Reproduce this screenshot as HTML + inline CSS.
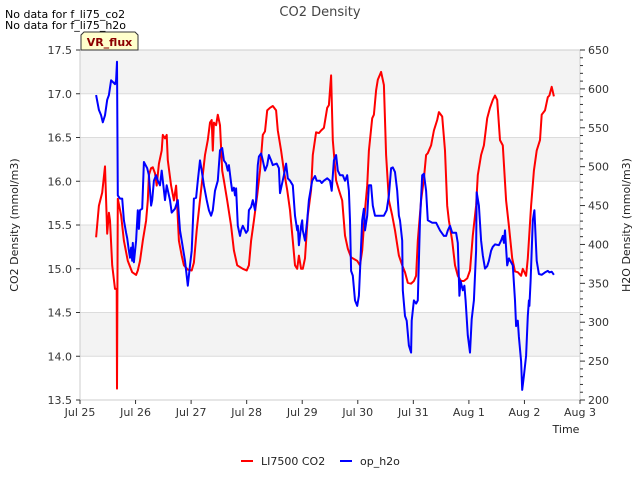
<!DOCTYPE html>
<html><head><meta charset="utf-8"><style>
body{margin:0;background:#fff;font-family:"DejaVu Sans","Liberation Sans",sans-serif;}
svg text{font-family:"DejaVu Sans","Liberation Sans",sans-serif;}
</style></head><body>
<svg id="chart" width="640" height="480" viewBox="0 0 640 480" xmlns="http://www.w3.org/2000/svg">
<rect width="640" height="480" fill="#fff"/>
<g id="bands"></g>
<g id="grid"></g>
<rect x="80" y="50" width="500" height="350" fill="none" stroke="#ccc" stroke-width="1"/>
<g id="axes"></g>
<g id="series"></g>
<text x="320" y="16" text-anchor="middle" font-size="13" fill="#444">CO2 Density</text>
<text x="5" y="18" font-size="11" fill="#000">No data for f_li75_co2</text>
<text x="5" y="29" font-size="11" fill="#000">No data for f_li75_h2o</text>
<g>
<path d="M84,32 L135,32 L138,35 L138,50 L81,50 L81,35 Z" fill="#ffffcc" stroke="#333" stroke-width="1"/>
<text x="109.5" y="46" text-anchor="middle" font-size="11" font-weight="bold" fill="#8b0000">VR_flux</text>
</g>
<text transform="translate(18,225) rotate(-90)" text-anchor="middle" font-size="11" fill="#222">CO2 Density (mmol/m3)</text>
<text transform="translate(630,225) rotate(-90)" text-anchor="middle" font-size="11" fill="#222">H2O Density (mmol/m3)</text>
<text x="566" y="433" text-anchor="middle" font-size="11" fill="#222">Time</text>
<g>
<g><line x1="241" y1="461" x2="253" y2="461" stroke="#f00" stroke-width="2"/><text x="261" y="465" font-size="11" fill="#222">LI7500 CO2</text></g>
<g><line x1="340" y1="461" x2="352" y2="461" stroke="#00f" stroke-width="2"/><text x="360" y="465" font-size="11" fill="#222">op_h2o</text></g>
</g>
</svg>
<script>
const xTickLabels=["Jul 25","Jul 26","Jul 27","Jul 28","Jul 29","Jul 30","Jul 31","Aug 1","Aug 2","Aug 3"];
const leftTicks=[13.5,14.0,14.5,15.0,15.5,16.0,16.5,17.0,17.5];
const rightTicks=[200,250,300,350,400,450,500,550,600,650];
const co2Times=[0.29,0.34,0.40,0.45,0.49,0.52,0.54,0.58,0.63,0.66,0.666,0.68,0.74,0.79,0.86,0.94,1.01,1.04,1.08,1.13,1.19,1.22,1.24,1.28,1.31,1.35,1.38,1.42,1.47,1.49,1.53,1.56,1.58,1.64,1.69,1.73,1.74,1.78,1.83,1.87,1.94,2.01,2.05,2.10,2.14,2.18,2.25,2.30,2.34,2.37,2.39,2.41,2.45,2.48,2.52,2.56,2.59,2.65,2.72,2.77,2.83,2.93,3.00,3.04,3.08,3.13,3.19,3.24,3.29,3.33,3.37,3.42,3.47,3.53,3.56,3.62,3.67,3.73,3.78,3.83,3.87,3.91,3.94,3.98,4.01,4.05,4.10,4.16,4.19,4.25,4.30,4.34,4.39,4.45,4.48,4.52,4.55,4.61,4.66,4.72,4.77,4.82,4.88,4.99,5.04,5.08,5.13,5.17,5.20,5.26,5.29,5.33,5.36,5.42,5.47,5.51,5.56,5.62,5.67,5.74,5.80,5.85,5.90,5.96,6.01,6.05,6.08,6.14,6.19,6.23,6.26,6.32,6.37,6.43,6.46,6.52,6.57,6.61,6.64,6.70,6.75,6.80,6.86,6.91,6.97,7.02,7.07,7.13,7.16,7.22,7.27,7.33,7.38,7.43,7.47,7.51,7.56,7.61,7.67,7.72,7.78,7.83,7.88,7.94,7.97,8.03,8.06,8.12,8.17,8.22,8.28,8.31,8.37,8.42,8.45,8.49,8.53];
const co2Values=[15.36,15.72,15.87,16.17,15.40,15.64,15.55,15.04,14.77,14.77,13.63,15.80,15.61,15.32,15.09,14.96,14.93,14.98,15.09,15.32,15.55,15.78,16.07,16.15,16.16,16.09,15.95,16.20,16.35,16.53,16.49,16.53,16.24,15.95,15.78,15.95,15.84,15.32,15.15,15.04,14.99,14.98,15.07,15.44,15.67,15.90,16.30,16.47,16.67,16.70,16.35,16.67,16.64,16.76,16.64,16.12,16.01,15.78,15.49,15.21,15.04,15.00,14.98,15.04,15.32,15.55,15.84,16.12,16.53,16.57,16.81,16.84,16.86,16.81,16.58,16.35,16.12,15.90,15.67,15.32,15.04,15.00,15.15,15.00,15.00,15.12,15.61,15.90,16.30,16.56,16.55,16.58,16.61,16.84,16.87,17.21,16.47,16.01,15.90,15.78,15.38,15.23,15.13,15.09,15.04,15.21,15.67,15.95,16.35,16.72,16.76,17.04,17.16,17.25,17.10,16.30,15.78,15.61,15.44,15.15,15.04,14.96,14.84,14.83,14.86,14.92,15.32,15.78,16.03,16.30,16.32,16.41,16.58,16.70,16.79,16.74,16.35,15.72,15.55,15.32,15.04,14.92,14.86,14.86,14.89,14.98,15.38,15.72,16.07,16.30,16.41,16.72,16.84,16.93,16.98,16.93,16.47,16.41,15.78,15.49,15.12,14.97,14.96,14.92,15.00,14.92,15.12,15.72,16.12,16.35,16.47,16.76,16.81,16.96,16.98,17.08,16.97];
const h2oTimes=[0.29,0.34,0.38,0.41,0.45,0.49,0.52,0.56,0.59,0.63,0.65,0.666,0.68,0.72,0.76,0.79,0.83,0.85,0.88,0.90,0.92,0.94,0.95,0.97,1.01,1.04,1.06,1.08,1.12,1.15,1.21,1.24,1.28,1.30,1.33,1.37,1.40,1.44,1.47,1.53,1.56,1.62,1.65,1.71,1.76,1.80,1.83,1.89,1.94,1.98,2.01,2.05,2.09,2.12,2.16,2.19,2.23,2.28,2.32,2.36,2.39,2.43,2.48,2.52,2.56,2.59,2.63,2.66,2.68,2.72,2.74,2.77,2.79,2.81,2.84,2.88,2.90,2.93,2.97,2.99,3.02,3.04,3.08,3.11,3.15,3.17,3.20,3.22,3.26,3.29,3.33,3.37,3.40,3.44,3.47,3.54,3.58,3.60,3.63,3.67,3.71,3.74,3.78,3.83,3.87,3.91,3.92,3.94,3.98,4.00,4.01,4.05,4.09,4.12,4.18,4.23,4.26,4.32,4.35,4.39,4.45,4.50,4.53,4.57,4.61,4.64,4.68,4.73,4.77,4.81,4.84,4.86,4.88,4.91,4.95,4.99,5.02,5.04,5.08,5.11,5.13,5.17,5.20,5.24,5.27,5.31,5.42,5.47,5.52,5.56,5.60,5.63,5.67,5.71,5.74,5.76,5.80,5.81,5.85,5.88,5.92,5.96,5.97,6.01,6.05,6.08,6.12,6.16,6.19,6.23,6.26,6.34,6.41,6.48,6.55,6.59,6.62,6.66,6.70,6.77,6.80,6.83,6.85,6.89,6.92,6.94,6.98,7.02,7.05,7.09,7.13,7.14,7.18,7.22,7.25,7.29,7.33,7.36,7.40,7.43,7.47,7.54,7.58,7.61,7.63,7.65,7.69,7.72,7.76,7.79,7.83,7.85,7.88,7.90,7.94,7.96,7.99,8.03,8.06,8.08,8.09,8.11,8.15,8.18,8.22,8.26,8.31,8.37,8.42,8.45,8.49,8.53];
const h2oValues=[592,573,566,557,566,586,592,611,609,606,611,635,463,459,459,431,415,408,392,383,396,379,402,377,405,444,420,444,446,506,498,489,450,457,482,489,482,476,495,457,476,457,441,446,457,418,405,379,347,373,392,459,460,482,508,495,476,457,444,437,444,469,482,521,524,508,504,495,502,479,469,473,463,472,424,411,418,424,418,415,418,444,448,457,444,457,502,513,517,508,495,502,515,508,502,504,498,466,476,489,504,485,482,476,437,418,424,399,424,431,418,405,431,457,482,488,482,482,479,482,485,482,469,508,515,495,489,489,482,489,469,431,366,360,328,321,334,366,431,446,418,437,476,476,450,437,437,437,444,463,498,499,493,469,437,431,405,341,308,302,270,261,302,328,324,328,431,489,491,469,431,428,428,418,411,411,418,424,415,415,402,334,353,341,347,328,283,261,304,328,392,467,450,405,386,369,372,379,392,397,400,399,405,411,402,418,373,382,377,373,328,295,302,281,250,213,231,257,308,328,321,353,431,444,379,362,361,364,366,364,365,361];

const NS="http://www.w3.org/2000/svg";
const PL=80,PR=580,PT=50,PB=400;
function xScale(d){return PL+d*(PR-PL)/9;}
function yLeft(v){return PB-(v-13.5)*(PB-PT)/4;}
function yRight(v){return PB-(v-200)*(PB-PT)/450;}
function mk(tag,attrs,parent){const e=document.createElementNS(NS,tag);for(const k in attrs)e.setAttribute(k,attrs[k]);parent.appendChild(e);return e;}
const bands=document.getElementById('bands'),grid=document.getElementById('grid'),axes=document.getElementById('axes'),series=document.getElementById('series');
for(let i=0;i<leftTicks.length-1;i++){
  if(i%2===1){const r=mk('rect',{x:PL,y:yLeft(leftTicks[i+1]),width:PR-PL,height:yLeft(leftTicks[i])-yLeft(leftTicks[i+1]),fill:'#f3f3f3'},bands);
  
  }
}
leftTicks.forEach(v=>{
  const y=yLeft(v);
  const g=mk('line',{x1:PL,x2:PR,y1:y,y2:y,stroke:'#dcdcdc','stroke-width':1},grid);
  
  
  mk('line',{x1:PL-4,x2:PL,y1:y,y2:y,stroke:'#333'},axes);
  const t=mk('text',{x:PL-8,y:y+4,'text-anchor':'end','font-size':11,fill:'#333'},axes);
  t.textContent=v.toFixed(1);
  
  
});
for(let v=200;v<=650;v+=10){const y=yRight(v);mk('line',{x1:PR,x2:PR+(v%50===0?5:3),y1:y,y2:y,stroke:'#333'},axes);}
rightTicks.forEach(v=>{
  const t=mk('text',{x:PR+8,y:yRight(v)+4,'font-size':11,fill:'#333'},axes);
  t.textContent=v;
  
  
});
xTickLabels.forEach((s,i)=>{
  const x=xScale(i);
  mk('line',{x1:x,x2:x,y1:PB,y2:PB+4,stroke:'#333'},axes);
  const t=mk('text',{x:x,y:PB+16,'text-anchor':'middle','font-size':11,fill:'#333'},axes);
  t.textContent=s;
  
  
});
function path(ts,vs,ys){return ts.map((t,i)=>(i?'L':'M')+xScale(t).toFixed(1)+','+ys(vs[i]).toFixed(1)).join('');}
const co2=mk('path',{d:path(co2Times,co2Values,yLeft),fill:'none',stroke:'#f00','stroke-width':2,'stroke-linejoin':'round'},series);


const h2o=mk('path',{d:path(h2oTimes,h2oValues,yRight),fill:'none',stroke:'#00f','stroke-width':2,'stroke-linejoin':'round'},series);


</script>
</body></html>
